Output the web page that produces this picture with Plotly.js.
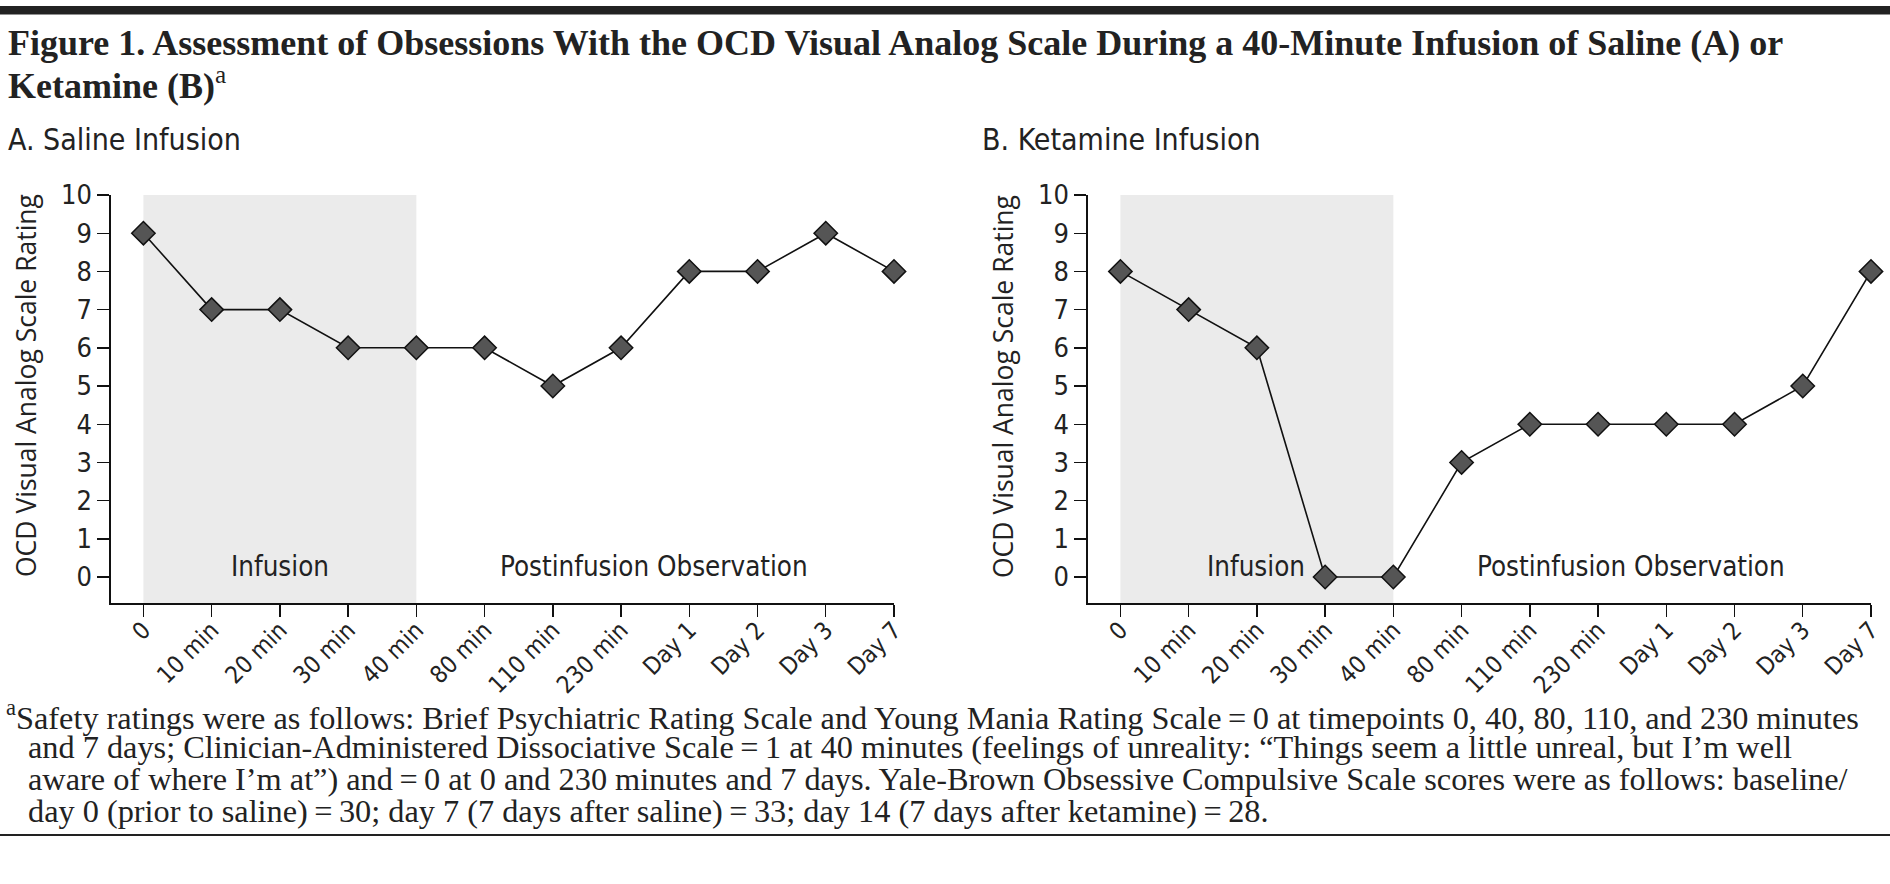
<!DOCTYPE html>
<html>
<head>
<meta charset="utf-8">
<script src="https://cdn.plot.ly/plotly-3.0.1.min.js"></script>
<style>html,body{margin:0;padding:0;background:#fff;}#chart{width:1890px;height:884px;}</style>
</head>
<body>
<div id="chart"></div>
<script>
// ---- data ----
const categories = ['0','10 min','20 min','30 min','40 min','80 min','110 min','230 min','Day 1','Day 2','Day 3','Day 7'];
const salineRatings = [9,7,7,6,6,6,5,6,8,8,9,8];
const ketamineRatings = [8,7,6,0,0,3,4,4,4,4,5,8];
const yTickVals = [0,1,2,3,4,5,6,7,8,9,10];
const infusionStart = '0';
const infusionEnd = '40 min';

const W = 1890, H = 884;
const px = v => v / W;
const py = v => 1 - v / H;

const SANS = '"DejaVu Sans Condensed", "Liberation Sans Narrow", Roboto, sans-serif';
const SERIF = '"Liberation Serif", "DejaVu Serif", serif';
const TITLE_SANS = '"Open Sans", "DejaVu Sans", sans-serif';

const markerStyle = {symbol: 'diamond', size: 18, color: '#555555', line: {color: '#111', width: 1.5}};
const lineStyle = {color: '#111', width: 1.6};

const traces = [
  {x: categories, y: salineRatings, xaxis: 'x', yaxis: 'y', type: 'scatter', mode: 'lines+markers',
   marker: markerStyle, line: lineStyle, hoverinfo: 'skip', cliponaxis: false},
  {x: categories, y: ketamineRatings, xaxis: 'x2', yaxis: 'y2', type: 'scatter', mode: 'lines+markers',
   marker: markerStyle, line: lineStyle, hoverinfo: 'skip', cliponaxis: false}
];

const yDomain = [py(603), py(195)];
const yRange = [-0.68, 10];
const xRange = [-0.475, 11];

function xAxis(domain, anchor) {
  return {
    domain: domain, anchor: anchor, type: 'category', range: xRange,
    showline: true, linecolor: '#111', linewidth: 1.6, mirror: false,
    ticks: 'outside', ticklen: 12, tickwidth: 1.4, tickcolor: '#111',
    tickangle: -45, tickfont: {family: SANS, size: 24, color: '#222'},
    ticklabelstandoff: -10,
    showgrid: false, zeroline: false, fixedrange: true
  };
}
function yAxis(anchor) {
  return {
    domain: yDomain, anchor: anchor, range: yRange, tickvals: yTickVals,
    showline: true, linecolor: '#111', linewidth: 1.6,
    ticks: 'outside', ticklen: 12, tickwidth: 1.4, tickcolor: '#111',
    tickfont: {family: SANS, size: 27, color: '#222'},
    showgrid: false, zeroline: false, fixedrange: true
  };
}

const layout = {
  width: W, height: H,
  margin: {l: 0, r: 0, t: 0, b: 0},
  paper_bgcolor: '#fff', plot_bgcolor: 'rgba(0,0,0,0)',
  showlegend: false,
  xaxis: xAxis([px(111), px(894)], 'y'),
  yaxis: yAxis('x'),
  xaxis2: xAxis([px(1088), px(1871)], 'y2'),
  yaxis2: yAxis('x2'),
  shapes: [
    {type: 'rect', xref: 'x', yref: 'y', x0: infusionStart, x1: infusionEnd, y0: yRange[0], y1: yRange[1],
     fillcolor: '#ebebeb', line: {width: 0}, layer: 'below'},
    {type: 'rect', xref: 'x2', yref: 'y2', x0: infusionStart, x1: infusionEnd, y0: yRange[0], y1: yRange[1],
     fillcolor: '#ebebeb', line: {width: 0}, layer: 'below'},
    {type: 'rect', xref: 'paper', yref: 'paper', x0: 0, x1: 1, y0: py(14.5), y1: py(6),
     fillcolor: '#222', line: {width: 0}},
    {type: 'line', xref: 'paper', yref: 'paper', x0: 0, x1: 1, y0: py(835), y1: py(835),
     line: {color: '#222', width: 2.2}}
  ],
  annotations: [
    {xref: 'paper', yref: 'paper', x: px(6), y: py(43), xanchor: 'left', yanchor: 'middle', showarrow: false,
     text: '<b>Figure 1. Assessment of Obsessions With the OCD Visual Analog Scale During a 40-Minute Infusion of Saline (A) or</b>',
     font: {family: SERIF, size: 36, color: '#222'}},
    {xref: 'paper', yref: 'paper', x: px(6), y: py(83), xanchor: 'left', yanchor: 'middle', showarrow: false,
     text: '<b>Ketamine (B)</b><sup>a</sup>',
     font: {family: SERIF, size: 36, color: '#222'}},
    {xref: 'paper', yref: 'paper', x: px(6), y: py(139), xanchor: 'left', yanchor: 'middle', showarrow: false,
     text: 'A. Saline Infusion', font: {family: SANS, size: 30, color: '#222'}},
    {xref: 'paper', yref: 'paper', x: px(980), y: py(139), xanchor: 'left', yanchor: 'middle', showarrow: false,
     text: 'B. Ketamine Infusion', font: {family: SANS, size: 30, color: '#222'}},
    {xref: 'paper', yref: 'paper', x: px(26), y: py(386), xanchor: 'center', yanchor: 'middle', showarrow: false,
     textangle: -90, text: 'OCD Visual Analog Scale Rating', font: {family: TITLE_SANS, size: 26.5, color: '#222'}},
    {xref: 'paper', yref: 'paper', x: px(1003), y: py(386), xanchor: 'center', yanchor: 'middle', showarrow: false,
     textangle: -90, text: 'OCD Visual Analog Scale Rating', font: {family: TITLE_SANS, size: 26.5, color: '#222'}},
    {xref: 'paper', yref: 'paper', x: px(280), y: py(566), xanchor: 'center', yanchor: 'middle', showarrow: false,
     text: 'Infusion', font: {family: SANS, size: 27.5, color: '#222'}},
    {xref: 'paper', yref: 'paper', x: px(654), y: py(566), xanchor: 'center', yanchor: 'middle', showarrow: false,
     text: 'Postinfusion Observation', font: {family: SANS, size: 27.5, color: '#222'}},
    {xref: 'paper', yref: 'paper', x: px(1256), y: py(566), xanchor: 'center', yanchor: 'middle', showarrow: false,
     text: 'Infusion', font: {family: SANS, size: 27.5, color: '#222'}},
    {xref: 'paper', yref: 'paper', x: px(1631), y: py(566), xanchor: 'center', yanchor: 'middle', showarrow: false,
     text: 'Postinfusion Observation', font: {family: SANS, size: 27.5, color: '#222'}},
    {xref: 'paper', yref: 'paper', x: px(4), y: py(715), xanchor: 'left', yanchor: 'middle', showarrow: false,
     text: '<sup>a</sup>Safety ratings were as follows: Brief Psychiatric Rating Scale and Young Mania Rating Scale\u2009=\u20090 at timepoints 0, 40, 80, 110, and 230 minutes',
     font: {family: SERIF, size: 32.3, color: '#222'}},
    {xref: 'paper', yref: 'paper', x: px(26), y: py(747), xanchor: 'left', yanchor: 'middle', showarrow: false,
     text: 'and 7 days; Clinician-Administered Dissociative Scale\u2009=\u20091 at 40 minutes (feelings of unreality: \u201cThings seem a little unreal, but I\u2019m well',
     font: {family: SERIF, size: 32.3, color: '#222'}},
    {xref: 'paper', yref: 'paper', x: px(26), y: py(779), xanchor: 'left', yanchor: 'middle', showarrow: false,
     text: 'aware of where I\u2019m at\u201d) and\u2009=\u20090 at 0 and 230 minutes and 7 days. Yale-Brown Obsessive Compulsive Scale scores were as follows: baseline/',
     font: {family: SERIF, size: 32.3, color: '#222'}},
    {xref: 'paper', yref: 'paper', x: px(26), y: py(811), xanchor: 'left', yanchor: 'middle', showarrow: false,
     text: 'day 0 (prior to saline)\u2009=\u200930; day 7 (7 days after saline)\u2009=\u200933; day 14 (7 days after ketamine)\u2009=\u200928.',
     font: {family: SERIF, size: 32.3, color: '#222'}}
  ]
};

Plotly.newPlot('chart', traces, layout, {displayModeBar: false, staticPlot: true});
</script>
</body>
</html>
